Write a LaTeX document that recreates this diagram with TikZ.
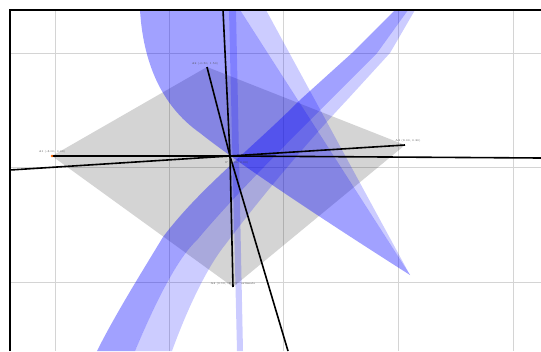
\documentclass[tikz,border=0pt]{standalone}
\begin{document}
\begin{tikzpicture}[x=1pt,y=-1pt,
  gridline/.style={draw=black!17,line width=0.7pt},
  darkband/.style={fill=blue,fill opacity=0.37,draw=none},
  lightband/.style={fill=blue,fill opacity=0.2,draw=none},
  region/.style={fill=black,fill opacity=0.17,draw=none},
  ray/.style={draw=black,line width=1.6pt},
  tag/.style={font=\fontsize{2.8}{3}\selectfont,text=black!70,inner sep=0pt},
  frameline/.style={draw=black,line width=2pt}]
\useasboundingbox (0,0) rectangle (541,351);
\fill[white] (0,0) rectangle (541,351);
% grid
\foreach \gx in {55,169,283,398,513} \draw[gridline] (\gx,10) -- (\gx,351);
\foreach \gy in {53,167,282} \draw[gridline] (10,\gy) -- (541,\gy);
% anchors
\coordinate (C) at (230,156);
\coordinate (L) at (52,156);
\coordinate (T) at (207,67);
\coordinate (R) at (405,145);
\coordinate (B) at (233,287);
% gray diamond
\path[region] (L) -- (T) -- (R) -- (B) -- cycle;
% band 1 (curved, tip at lower right)
\path[darkband] (140,10) .. controls (143,60) and (160,105) .. (200,133)
  .. controls (230,157) and (300,205) .. (410,275) -- (240,10) -- cycle;
\path[lightband] (240,10) -- (410,275) -- (266,10) -- cycle;
% band 2 (curved, from top right to bottom left)
\path[darkband] (395,10) -- (352,53) -- (300,100) .. controls (250,150) and (200,188) .. (163,237)
  .. controls (140,275) and (115,315) .. (97,351) -- (135,351)
  .. controls (150,315) and (175,260) .. (197,240) .. controls (230,200) and (290,140) .. (330,100)
  -- (377,53) -- (408,10) -- cycle;
\path[lightband] (408,10) -- (377,53) -- (330,100) .. controls (290,140) and (230,200) .. (197,240)
  .. controls (175,260) and (150,315) .. (135,351) -- (172,351)
  .. controls (185,315) and (205,270) .. (225,245) .. controls (255,205) and (300,150) .. (347,100)
  -- (390,53) -- (415,10) -- cycle;
% thin vertical strip
\path[lightband] (229,10) -- (236,10) -- (243,351) -- (237,351) -- cycle;
% rays from the centre
\coordinate (E1) at (10,170);
\coordinate (E2) at (541,158);
\coordinate (E3) at (223,10);
\coordinate (E4) at (288,351);
\draw[ray] (C) -- (L);
\draw[ray] (C) -- (R);
\draw[ray] (C) -- (T);
\draw[ray] (C) -- (B);
\draw[ray] (C) -- (E1);
\draw[ray] (C) -- (E2);
\draw[ray] (C) -- (E3);
\draw[ray] (C) -- (E4);
\fill[orange!80!red] (L) circle (1.3);
% labels
\node[tag] (tl) at (52,152) {A1 (-3.00, 0.00)};
\node[tag] (tt) at (205,64) {A2 (-0.50, 1.50)};
\node[tag] (tr) at (408,141) {A3 (3.00, 0.20)};
\node[tag] (tb) at (233,284) {A4 (0.10, -2.30) \quad estimate};
\node[tag] (tc) at (237,163) {P (0.00, 0.00)};
% frame
\draw[frameline] (10,351) -- (10,10) -- (541,10);
\end{tikzpicture}
\end{document}
